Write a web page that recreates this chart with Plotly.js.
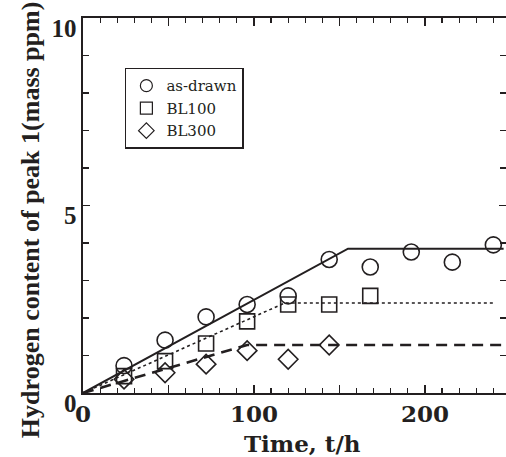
<!DOCTYPE html>
<html>
<head>
<meta charset="utf-8">
<script src="https://cdn.plot.ly/plotly-3.0.1.min.js"></script>
<style>html,body{margin:0;padding:0;background:#fff;}#chart{width:506px;height:457px;}</style>
</head>
<body>
<div id="chart"></div>
<script>
// Measurement times (h)
const timeAsDrawn = [24, 48, 72, 96, 120, 144, 168, 192, 216, 240];
const hAsDrawn    = [0.73, 1.41, 2.03, 2.36, 2.59, 3.56, 3.36, 3.76, 3.49, 3.95];
const timeBL100   = [24, 48, 72, 96, 120, 144, 168];
const hBL100      = [0.45, 0.85, 1.32, 1.91, 2.36, 2.36, 2.59];
const timeBL300   = [24, 48, 72, 96, 120, 144];
const hBL300      = [0.37, 0.54, 0.77, 1.13, 0.90, 1.28];
// Fitted trend lines (break points)
const fitAsDrawnX = [0, 155, 246];
const fitAsDrawnY = [0, 3.85, 3.85];
const fitBL100X   = [0, 118, 241];
const fitBL100Y   = [0, 2.40, 2.40];
const fitBL300X   = [0, 96, 246];
const fitBL300Y   = [0, 1.28, 1.28];
// Legend names and tick labels
const seriesNames = ['as-drawn', 'BL100', 'BL300'];
const xTickVals = [0, 50, 100, 150, 200];
const xTickText = ['0', '', '100', '', '200'];
const yTickVals = [0, 5, 10];
const yTickText = ['0', '5', '10'];

const ink = '#231f20';
const symbols = ['circle-open', 'square-open', 'diamond-open'];
const sizes = [16, 15, 15];
const xs = [timeAsDrawn, timeBL100, timeBL300];
const ys = [hAsDrawn, hBL100, hBL300];
const bold = t => t === '' ? '' : '<b>' + t + '</b>';

const traces = [
  {x: fitAsDrawnX, y: fitAsDrawnY, mode: 'lines', line: {color: ink, width: 2}, showlegend: false, hoverinfo: 'skip'},
  {x: fitBL100X, y: fitBL100Y, mode: 'lines', line: {color: ink, width: 1.6, dash: 'dot'}, showlegend: false, hoverinfo: 'skip'},
  {x: fitBL300X, y: fitBL300Y, mode: 'lines', line: {color: ink, width: 2.6, dash: '11px,7px'}, showlegend: false, hoverinfo: 'skip'}
];
for (let i = 0; i < 3; i++) {
  traces.push({x: xs[i], y: ys[i], mode: 'markers', name: seriesNames[i], showlegend: false, legendgroup: seriesNames[i],
    marker: {symbol: symbols[i], size: sizes[i], color: ink, line: {width: 1.6, color: ink}}});
}
// legend entries (smaller legend symbols)
for (let i = 0; i < 3; i++) {
  traces.push({x: [null], y: [null], mode: 'markers', name: seriesNames[i], legendgroup: seriesNames[i],
    marker: {symbol: symbols[i], size: 12, color: ink, line: {width: 1.2, color: ink}}});
}

const layout = {
  width: 506, height: 457,
  margin: {l: 83, r: 0, t: 18, b: 64},
  paper_bgcolor: '#fff', plot_bgcolor: '#fff',
  font: {family: 'Liberation Serif, serif', color: ink},
  xaxis: {
    range: [0, 247.4], showgrid: false, zeroline: false,
    showline: true, linecolor: ink, linewidth: 1.6, mirror: 'ticks',
    ticks: 'inside', ticklen: 8, tickwidth: 1.4, tickcolor: ink,
    tickvals: xTickVals, ticktext: xTickText.map(bold),
    tickfont: {family: 'DejaVu Serif, serif', size: 23, color: ink},
    minor: {dtick: 10, ticks: 'inside', ticklen: 5, tickwidth: 1.2, tickcolor: ink, showgrid: false},
    title: {text: ''}
  },
  yaxis: {
    range: [0, 10], showgrid: false, zeroline: false,
    showline: true, linecolor: ink, linewidth: 1.6, mirror: 'ticks',
    ticks: 'inside', ticklen: 7, tickwidth: 1.4, tickcolor: ink,
    tickvals: yTickVals, ticktext: yTickText.map(bold),
    ticklabelshift: 10,
    tickfont: {family: 'Liberation Serif, serif', size: 25, color: ink},
    minor: {dtick: 1, ticks: 'inside', ticklen: 6, tickwidth: 1.2, tickcolor: ink, showgrid: false},
    title: {text: ''}
  },
  annotations: [
    {text: '<b>Time, t/h</b>', xref: 'paper', yref: 'paper', x: 0.5, y: 0, xanchor: 'center', yanchor: 'middle',
     xshift: 8, yshift: -50, showarrow: false, font: {family: 'DejaVu Serif, serif', size: 23, color: ink}},
    {text: '<b>Hydrogen content of peak 1(mass ppm)</b>', xref: 'paper', yref: 'paper', x: 0, y: 0.461,
     xanchor: 'center', yanchor: 'middle', xshift: -53, textangle: -90, showarrow: false,
     font: {family: 'Liberation Serif, serif', size: 26, color: ink}}
  ],
  legend: {
    x: 0.099, y: 0.867, xanchor: 'left', yanchor: 'top',
    bgcolor: '#fff', bordercolor: ink, borderwidth: 1.5,
    font: {family: 'DejaVu Serif, serif', size: 15, color: ink},
    tracegroupgap: 0, itemwidth: 30
  },
  showlegend: true
};

Plotly.newPlot('chart', traces, layout, {staticPlot: true, displayModeBar: false});
</script>
</body>
</html>
